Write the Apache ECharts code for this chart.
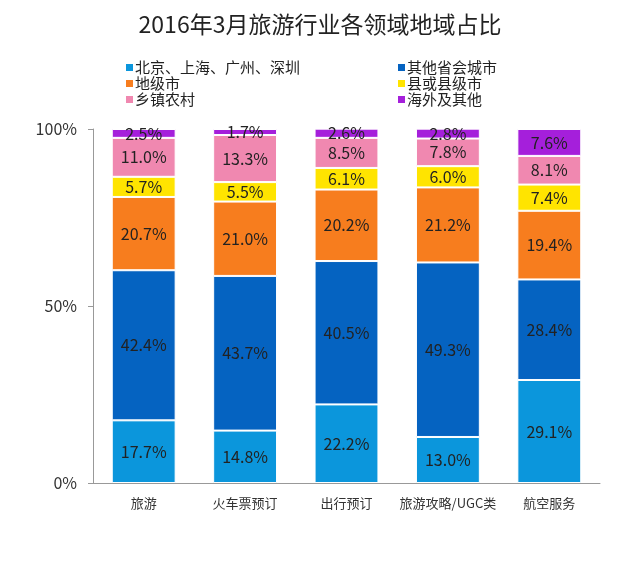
<!DOCTYPE html>
<html><head><meta charset="utf-8">
<script src="https://cdn.jsdelivr.net/npm/echarts@6/dist/echarts.min.js"></script>
<style>html,body{margin:0;padding:0;background:#fff}#c{width:640px;height:566px}</style>
</head><body><div id="c"></div>
<script>
var categories = ['旅游','火车票预订','出行预订','旅游攻略/UGC类','航空服务'];
var seriesNames = ['北京、上海、广州、深圳','其他省会城市','地级市','县或县级市','乡镇农村','海外及其他'];
var tier1 = [17.7,14.8,22.2,13.0,29.1];
var provincial = [42.4,43.7,40.5,49.3,28.4];
var prefecture = [20.7,21.0,20.2,21.2,19.4];
var county = [5.7,5.5,6.1,6.0,7.4];
var rural = [11.0,13.3,8.5,7.8,8.1];
var overseas = [2.5,1.7,2.6,2.8,7.6];
var yTicks = [0,50,100];
var colors = ['#0b96dc','#0563c1','#f77d1e','#ffe400','#f088b0','#a51fdb'];
var values = [tier1,provincial,prefecture,county,rural,overseas];
var font = '"Noto Sans CJK SC", "Noto Sans", sans-serif';
var chart = echarts.init(document.getElementById('c'));
chart.setOption({
  animation:false,
  textStyle:{fontFamily:font},
  title:{text:'2016年3月旅游行业各领域地域占比',left:'center',top:8,textStyle:{fontSize:23,fontWeight:'normal',color:'#222',fontFamily:font}},
  legend:[
    {data:[seriesNames[0],seriesNames[2],seriesNames[4]],orient:'vertical',left:119,top:55,itemWidth:9,itemHeight:9,itemGap:1,textStyle:{fontSize:15,color:'#222',padding:[0,0,0,-4]},icon:'rect'},
    {data:[seriesNames[1],seriesNames[3],seriesNames[5]],orient:'vertical',left:391,top:55,itemWidth:9,itemHeight:9,itemGap:1,textStyle:{fontSize:15,color:'#222',padding:[0,0,0,-4]},icon:'rect'}
  ],
  grid:{left:93,right:40,top:129,bottom:83,containLabel:false},
  xAxis:{type:'category',data:categories,axisLine:{lineStyle:{color:'#999'}},axisTick:{show:false},axisLabel:{interval:0,fontSize:13,color:'#333',margin:14}},
  yAxis:{type:'value',min:0,max:100,interval:50,axisLine:{show:true,lineStyle:{color:'#999'}},axisTick:{show:true,length:5,lineStyle:{color:'#999'}},splitLine:{show:false},
    axisLabel:{fontSize:16,color:'#333',margin:16,formatter:function(v){return yTicks.indexOf(v)>=0?v+'%':'';}}},
  series:values.map(function(arr,i){
    return {name:seriesNames[i],type:'bar',stack:'all',data:arr,barWidth:'63%',
      itemStyle:{color:colors[i],borderColor:'#fff',borderWidth:1},
      label:{show:true,position:'inside',fontSize:16,color:'#222',formatter:function(p){return p.value.toFixed(1)+'%';}}};
  })
});
</script></body></html>
